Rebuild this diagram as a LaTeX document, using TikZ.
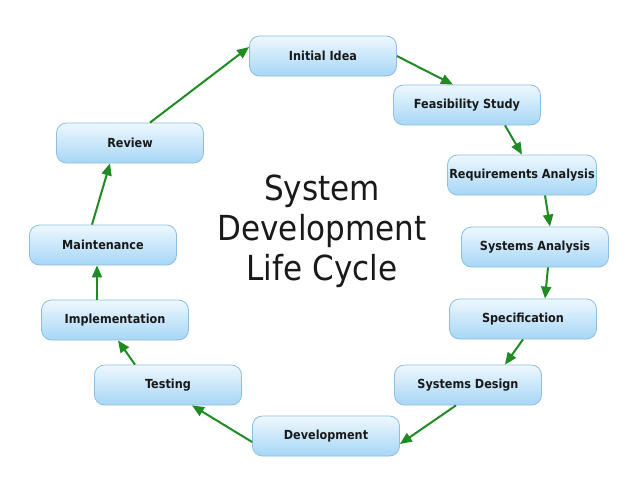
\documentclass[tikz,border=0pt]{standalone}
\usepackage{fontspec}
\setmainfont{DejaVu Sans Condensed}
\usetikzlibrary{arrows.meta}
\definecolor{arrgreen}{HTML}{1E8C22}
\definecolor{boxtop}{HTML}{EEF8FE}
\definecolor{boxbot}{HTML}{A6D6F6}
\definecolor{boxline}{HTML}{8DBEDF}
\tikzset{
  stage/.style={draw=boxline, line width=0.8pt, rounded corners=10pt,
    top color=boxtop, bottom color=boxbot, minimum width=147pt, minimum height=40pt,
    inner sep=0pt, font=\bfseries\fontsize{12.5}{15}\selectfont, text=black!90},
  arr/.style={draw=arrgreen, line width=2pt,
    -{Triangle[length=12pt,width=10pt]}, fill=arrgreen},
}
\begin{document}
\begin{tikzpicture}[x=1pt,y=-1pt]
\useasboundingbox (0,0) rectangle (638,493);
\fill[white] (0,0) rectangle (638,493);
\node[stage] (idea)   at (323,56)  {Initial Idea};
\node[stage] (feas)   at (467,105) {Feasibility Study};
\node[stage,minimum width=149pt] (req) at (522,175) {Requirements Analysis};
\node[stage] (sysan)  at (535,247) {Systems Analysis};
\node[stage] (spec)   at (523,319) {Specification};
\node[stage] (design) at (468,385) {Systems Design};
\node[stage] (dev)    at (326,436) {Development};
\node[stage] (test)   at (168,385) {Testing};
\node[stage] (impl)   at (115,320) {Implementation};
\node[stage] (maint)  at (103,245) {Maintenance};
\node[stage] (review) at (130,143) {Review};
\node[align=center, font=\fontsize{34.5}{40}\selectfont, text=black!90] (title) at (322,231)
  {System\\Development\\Life Cycle};
\draw[arr] (idea.east) -- ([xshift=-14pt]feas.north);
\draw[arr] ([xshift=38pt]feas.south) -- (req.north);
\draw[arr] ([xshift=23pt]req.south) -- ([xshift=15pt]sysan.north);
\draw[arr] ([xshift=13pt]sysan.south) -- ([xshift=22pt]spec.north);
\draw[arr] (spec.south) -- ([xshift=37pt]design.north);
\draw[arr] ([xshift=-12pt]design.south) -- ([yshift=-8pt]dev.east);
\draw[arr] ([yshift=-6pt]dev.west) -- ([xshift=24pt]test.south);
\draw[arr] ([xshift=-33pt]test.north) -- ([xshift=3pt]impl.south);
\draw[arr] ([xshift=-18pt]impl.north) -- ([xshift=-6pt]maint.south);
\draw[arr] ([xshift=-11pt]maint.north) -- ([xshift=-20pt]review.south);
\draw[arr] ([xshift=20pt]review.north) -- ([yshift=9pt]idea.west);
\end{tikzpicture}
\end{document}
